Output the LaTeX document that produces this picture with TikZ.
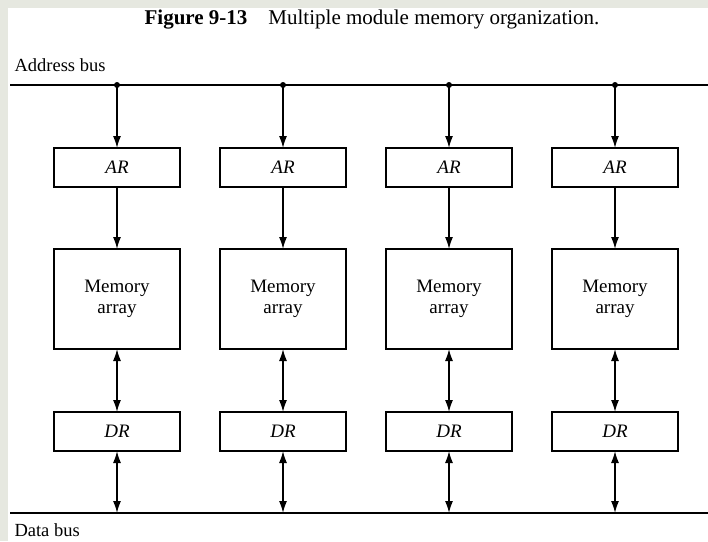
\documentclass[tikz,border=0pt]{standalone}
\usepackage{fontspec}
\setmainfont{Liberation Serif}
\usetikzlibrary{positioning,arrows.meta}

\definecolor{pagegrey}{RGB}{230,232,224}
\tikzset{
  txt/.style={font=\fontsize{18.5}{21}\selectfont},
  reg/.style={draw, line width=1.5pt, minimum width=126pt, minimum height=39pt,
    inner sep=0pt, outer sep=0pt, font=\fontsize{19}{21}\selectfont\itshape},
  mem/.style={reg, minimum height=100pt, align=center, font=\fontsize{19}{21}\selectfont},
  bus/.style={line width=1.8pt},
  wire/.style={line width=1.5pt, -{Latex[length=12pt,width=8pt]}},
  bidir/.style={line width=1.5pt, {Latex[length=12pt,width=8pt]}-{Latex[length=12pt,width=8pt]}},
}

\begin{document}
\begin{tikzpicture}[x=1pt,y=-1pt]
	% page and margins
	\useasboundingbox (0,0) rectangle (708,541);
	\fill[pagegrey] (0,0) rectangle (708,541);
	\fill[white] (8,8) rectangle (708,541);
	% Caption and bus labels
	\node[font=\fontsize{21}{24}\selectfont] (title) at (372,20) {\textbf{Figure 9-13}\quad Multiple module memory organization.};
	\node[txt, anchor=base west] (alabel) at (11,71) {Address bus};
	\node[txt, anchor=base west] (dlabel) at (11,536) {Data bus};
	% Address registers
	\node[reg]                  (ar1) at (117,167.5) {AR};
	\node[reg, right=40pt of ar1] (ar2) {AR};
	\node[reg, right=40pt of ar2] (ar3) {AR};
	\node[reg, right=40pt of ar3] (ar4) {AR};
	% Memory arrays
	\node[mem, below=62pt of ar1] (m1) {Memory\\array};
	\node[mem, below=62pt of ar2] (m2) {Memory\\array};
	\node[mem, below=62pt of ar3] (m3) {Memory\\array};
	\node[mem, below=62pt of ar4] (m4) {Memory\\array};
	% Data registers
	\node[reg, below=63pt of m1] (dr1) {DR};
	\node[reg, below=63pt of m2] (dr2) {DR};
	\node[reg, below=63pt of m3] (dr3) {DR};
	\node[reg, below=63pt of m4] (dr4) {DR};
	% Bus ends and taps
	\coordinate (abusL) at (10,85);
	\coordinate (abusR) at (708,85);
	\coordinate (dbusL) at (10,513);
	\coordinate (dbusR) at (708,513);
	\coordinate (a1) at (ar1 |- abusL);
	\coordinate (a2) at (ar2 |- abusL);
	\coordinate (a3) at (ar3 |- abusL);
	\coordinate (a4) at (ar4 |- abusL);
	\coordinate (d1) at (dr1 |- dbusL);
	\coordinate (d2) at (dr2 |- dbusL);
	\coordinate (d3) at (dr3 |- dbusL);
	\coordinate (d4) at (dr4 |- dbusL);
	\draw[bus] (abusL) -- (abusR);
	\draw[bus] (dbusL) -- (dbusR);
	\fill (a1) circle (3pt) (a2) circle (3pt) (a3) circle (3pt) (a4) circle (3pt);
	% Connect everything
	\draw[wire] (a1) -- (ar1);
	\draw[wire] (a2) -- (ar2);
	\draw[wire] (a3) -- (ar3);
	\draw[wire] (a4) -- (ar4);
	\draw[wire] (ar1) -- (m1);
	\draw[wire] (ar2) -- (m2);
	\draw[wire] (ar3) -- (m3);
	\draw[wire] (ar4) -- (m4);
	\draw[bidir] (m1) -- (dr1);
	\draw[bidir] (m2) -- (dr2);
	\draw[bidir] (m3) -- (dr3);
	\draw[bidir] (m4) -- (dr4);
	\draw[bidir] (dr1) -- (d1);
	\draw[bidir] (dr2) -- (d2);
	\draw[bidir] (dr3) -- (d3);
	\draw[bidir] (dr4) -- (d4);
\end{tikzpicture}
\end{document}
